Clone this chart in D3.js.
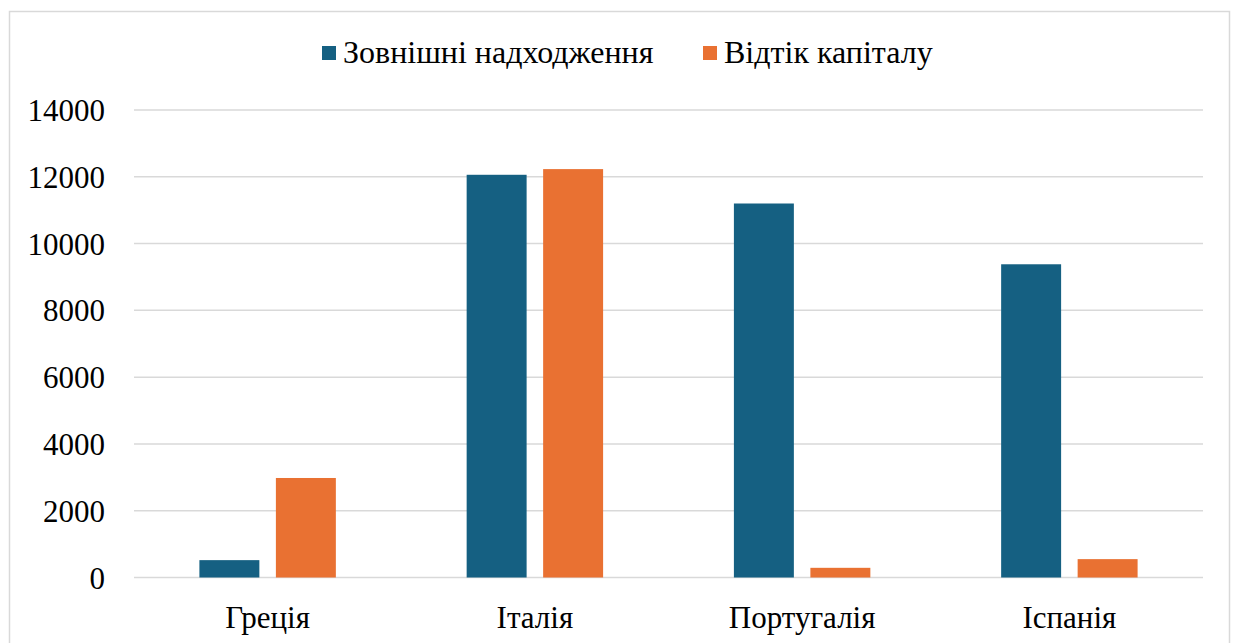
<!DOCTYPE html>
<html>
<head>
<meta charset="utf-8">
<script src="https://cdn.jsdelivr.net/npm/d3@7"></script>
<style>
  body { margin: 0; background: #fff; }
</style>
</head>
<body>
<svg id="chart" width="1233" height="643"></svg>
<script>
// data
let categories = ['Греція', 'Італія', 'Португалія', 'Іспанія'];
let seriesNames = ['Зовнішні надходження', 'Відтік капіталу'];
let inflows = [520, 12060, 11200, 9380];
let outflows = [2980, 12230, 290, 550];
let yTicks = [0, 2000, 4000, 6000, 8000, 10000, 12000, 14000];
let colors = ['#156082', '#e97132'];

let font = 'Liberation Serif, Times New Roman, serif';

let margin = {top: 110, right: 30, bottom: 65, left: 134};
let width = 1203 - margin.left;
let height = 577.5 - margin.top;

let svg = d3.select('#chart');

// chart frame
svg.append('rect')
	.attr('x', 9.5)
	.attr('y', 11.5)
	.attr('width', 1220)
	.attr('height', 650)
	.style('fill', 'none')
	.style('stroke', '#d9d9d9')
	.style('stroke-width', 1.5);

let g = svg.append('g')
	.attr('transform', 'translate(' + margin.left + ',' + margin.top + ')');

let yScale = d3.scaleLinear()
	.domain([0, 14000])
	.range([height, 0]);

let x0 = d3.scaleBand()
	.domain(categories)
	.range([0, width])
	.padding(0);

let x1 = d3.scaleBand()
	.domain(seriesNames)
	.range([0, x0.bandwidth()])
	.paddingInner(0.216)
	.paddingOuter(0.855);

// gridlines
g.append('g')
	.selectAll('line')
	.data(yTicks)
	.enter()
	.append('line')
	.attr('x1', 0)
	.attr('x2', width)
	.attr('y1', d => yScale(d))
	.attr('y2', d => yScale(d))
	.style('stroke', '#d9d9d9')
	.style('stroke-width', 1.5);

// y axis labels
let yAxis = d3.axisLeft(yScale)
	.tickValues(yTicks)
	.tickSize(0)
	.tickPadding(29)
	.tickFormat(d3.format('d'));

let ya = g.append('g').call(yAxis);
ya.attr('font-family', font).attr('font-size', 31);
ya.select('.domain').remove();
ya.selectAll('text')
	.style('font-family', font)
	.style('fill', '#000')
	.attr('dy', '0.34em');

// bars
let rows = categories.map((c, i) => ({cat: c, values: [inflows[i], outflows[i]]}));

let groups = g.selectAll('.grp')
	.data(rows)
	.enter()
	.append('g')
	.attr('class', 'grp')
	.attr('transform', d => 'translate(' + x0(d.cat) + ',0)');

groups.selectAll('rect')
	.data(d => d.values.map((v, j) => ({name: seriesNames[j], value: v, j: j})))
	.enter()
	.append('rect')
	.attr('x', d => x1(d.name))
	.attr('width', x1.bandwidth())
	.attr('y', d => yScale(d.value))
	.attr('height', d => yScale(0) - yScale(d.value))
	.style('fill', d => colors[d.j]);

// x axis labels
let xAxis = d3.axisBottom(x0)
	.tickSize(0)
	.tickPadding(28.5);

let xa = g.append('g')
	.attr('transform', 'translate(0,' + height + ')')
	.call(xAxis);
xa.attr('font-family', font).attr('font-size', 31);
xa.select('.domain').remove();
xa.selectAll('text')
	.style('font-family', font)
	.style('fill', '#000');

// legend
let legendX = [322, 703];
let legend = svg.append('g');
seriesNames.forEach((name, i) => {
	legend.append('rect')
		.attr('x', legendX[i])
		.attr('y', 46)
		.attr('width', 14)
		.attr('height', 14)
		.style('fill', colors[i]);
	legend.append('text')
		.attr('x', legendX[i] + 21)
		.attr('y', 63)
		.style('font-family', font)
		.style('font-size', '32px')
		.style('fill', '#000')
		.text(name);
});
</script>
</body>
</html>
